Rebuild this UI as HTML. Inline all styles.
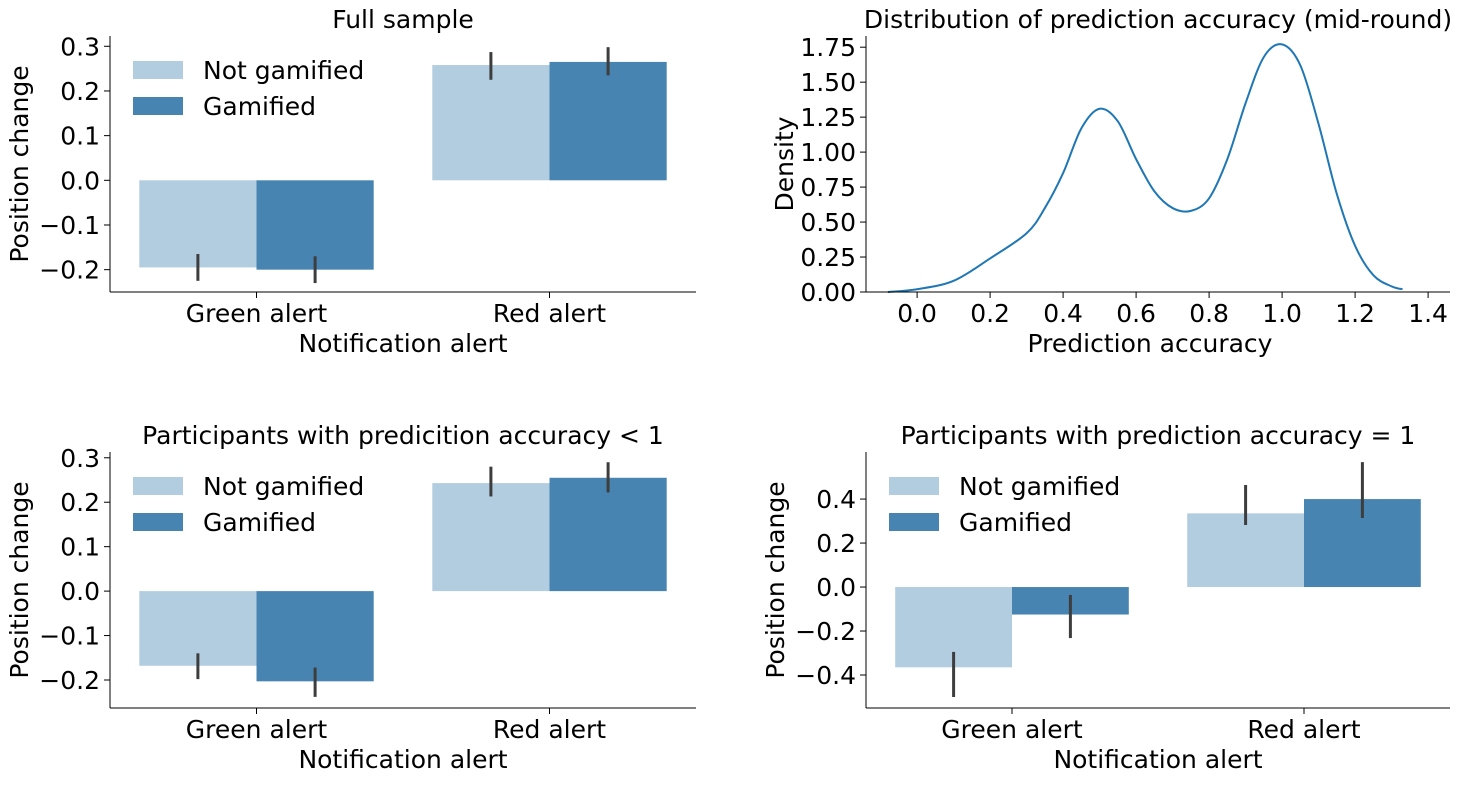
<!DOCTYPE html>
<html><head><meta charset="utf-8"><style>
body{margin:0;background:#fff}
svg{font-family:"DejaVu Sans","Liberation Sans",sans-serif}
</style></head><body>
<svg id="c" width="1481" height="781" xmlns="http://www.w3.org/2000/svg"></svg>
<script>
const categories=["Green alert","Red alert"];
const seriesNames=["Not gamified","Gamified"];
const fullVals=[[-0.195,0.258],[-0.2,0.265]];
const fullErrLo=[[-0.225,0.225],[-0.23,0.235]];
const fullErrHi=[[-0.165,0.287],[-0.17,0.298]];
const ltVals=[[-0.168,0.243],[-0.203,0.255]];
const ltErrLo=[[-0.198,0.213],[-0.238,0.222]];
const ltErrHi=[[-0.14,0.28],[-0.172,0.29]];
const eqVals=[[-0.365,0.335],[-0.125,0.4]];
const eqErrLo=[[-0.5,0.282],[-0.232,0.314]];
const eqErrHi=[[-0.295,0.464],[-0.036,0.568]];
const ticksFull=[-0.2,-0.1,0.0,0.1,0.2,0.3];
const ticksLt=[-0.2,-0.1,0.0,0.1,0.2,0.3];
const ticksEq=[-0.4,-0.2,0.0,0.2,0.4];
const kdeX=[-0.08,0,0.1,0.2,0.3,0.35,0.4,0.45,0.5,0.55,0.6,0.65,0.7,0.75,0.8,0.85,0.9,0.95,1.0,1.05,1.1,1.15,1.2,1.25,1.3,1.33];
const kdeY=[0,0.02,0.08,0.24,0.42,0.6,0.85,1.17,1.31,1.22,0.95,0.72,0.6,0.58,0.67,0.95,1.35,1.68,1.77,1.62,1.2,0.7,0.33,0.12,0.04,0.02];
const kdeXTicks=[0.0,0.2,0.4,0.6,0.8,1.0,1.2,1.4];
const kdeYTicks=[0,0.25,0.5,0.75,1.0,1.25,1.5,1.75];

const svg=document.getElementById('c');
const NS="http://www.w3.org/2000/svg";
function mk(tag,attrs,parent,txt){const e=document.createElementNS(NS,tag);for(const k in attrs)e.setAttribute(k,attrs[k]);if(txt!==undefined)e.textContent=txt;(parent||svg).appendChild(e);return e;}
function fmt(v,d){let s=v.toFixed(d);if(v<-1e-9)s='\u2212'+s.slice(1);return s;}
const colors=["#b3cde0","#4884b1"];
const FS=25;

function barPanel(name,L,R,T,B,ymin,ymax,title,vals,lo,hi,ticks,dec){
  const g=mk('g',{});
  
  
  const y=v=>B-(v-ymin)/(ymax-ymin)*(B-T);
  const x=v=>L+(v+0.5)/2*(R-L);
  const bw=0.4*(R-L)/2;
  for(let s=0;s<2;s++)for(let c=0;c<2;c++){
    const y0=y(0),y1=y(vals[s][c]);
    const xl=x(c)-bw+s*bw;
    const r=mk('rect',{x:xl,y:Math.min(y0,y1),width:bw,height:Math.abs(y1-y0),fill:colors[s]},g);
    
    
    const el=mk('line',{x1:xl+bw/2,x2:xl+bw/2,y1:y(lo[s][c]),y2:y(hi[s][c]),stroke:'#3d3d3d','stroke-width':3},g);
    
    
  }
  mk('line',{x1:L,x2:L,y1:T,y2:B,stroke:'#000','stroke-width':1},g);
  mk('line',{x1:L,x2:R,y1:B,y2:B,stroke:'#000','stroke-width':1},g);
  ticks.forEach(t=>{const yy=y(t);mk('line',{x1:L-6,x2:L,y1:yy,y2:yy,stroke:'#000'},g);
    const tx=mk('text',{x:L-10,y:yy+9,'text-anchor':'end','font-size':FS},g,fmt(t,1));
    });
  categories.forEach((c,i)=>{const xx=x(i);mk('line',{x1:xx,x2:xx,y1:B,y2:B+6,stroke:'#000'},g);
    const tx=mk('text',{x:xx,y:B+30,'text-anchor':'middle','font-size':FS},g,c);
    });
  const xt=mk('text',{x:(L+R)/2,y:B+60,'text-anchor':'middle','font-size':FS},g,'Notification alert');
  
  const yt=mk('text',{x:0,y:0,'text-anchor':'middle','font-size':FS,transform:`translate(${L-82},${(T+B)/2}) rotate(-90)`},g,'Position change');
  
  const tt=mk('text',{x:(L+R)/2,y:T-8,'text-anchor':'middle','font-size':FS},g,title);
  
  seriesNames.forEach((n,i)=>{const ly=T+25+i*36;
    const p=mk('rect',{x:L+23,y:ly,width:50,height:18,fill:colors[i]},g);
    
    const lt=mk('text',{x:L+93,y:ly+18,'font-size':FS},g,n);
    });
}
barPanel('panel-full-sample',110,696,36,292,-0.25,0.323,'Full sample',fullVals,fullErrLo,fullErrHi,ticksFull,1);
barPanel('panel-accuracy-lt-1',110,696,452,708,-0.263,0.313,'Participants with predicition accuracy < 1',ltVals,ltErrLo,ltErrHi,ticksLt,1);
barPanel('panel-accuracy-eq-1',866,1450,452,708,-0.55,0.614,'Participants with prediction accuracy = 1',eqVals,eqErrLo,eqErrHi,ticksEq,1);

(function(){
  const L=866,R=1450,T=36,B=292,xmin=-0.14,xmax=1.46,ymin=0,ymax=1.83;
  const g=mk('g',{});
  
  
  const x=v=>L+(v-xmin)/(xmax-xmin)*(R-L);
  const y=v=>B-(v-ymin)/(ymax-ymin)*(B-T);
  let d='';
  for(let i=0;i<kdeX.length;i++){
    const px=x(kdeX[i]),py=y(kdeY[i]);
    if(i===0)d='M'+px+' '+py;
    else{const p0=[x(kdeX[Math.max(i-2,0)]),y(kdeY[Math.max(i-2,0)])],p1=[x(kdeX[i-1]),y(kdeY[i-1])],p2=[px,py],p3=[x(kdeX[Math.min(i+1,kdeX.length-1)]),y(kdeY[Math.min(i+1,kdeX.length-1)])];
      const c1=[p1[0]+(p2[0]-p0[0])/6,p1[1]+(p2[1]-p0[1])/6],c2=[p2[0]-(p3[0]-p1[0])/6,p2[1]-(p3[1]-p1[1])/6];
      d+=` C${c1[0]} ${c1[1]} ${c2[0]} ${c2[1]} ${p2[0]} ${p2[1]}`;}
  }
  const pa=mk('path',{d:d,fill:'none',stroke:'#1f77b4','stroke-width':2},g);
  
  mk('line',{x1:L,x2:L,y1:T,y2:B,stroke:'#000'},g);
  mk('line',{x1:L,x2:R,y1:B,y2:B,stroke:'#000'},g);
  kdeYTicks.forEach(t=>{const yy=y(t);mk('line',{x1:L-6,x2:L,y1:yy,y2:yy,stroke:'#000'},g);
    const tx=mk('text',{x:L-10,y:yy+9,'text-anchor':'end','font-size':FS},g,t.toFixed(2));
    });
  kdeXTicks.forEach(t=>{const xx=x(t);mk('line',{x1:xx,x2:xx,y1:B,y2:B+6,stroke:'#000'},g);
    const tx=mk('text',{x:xx,y:B+30,'text-anchor':'middle','font-size':FS},g,t.toFixed(1));
    });
  const xt=mk('text',{x:(L+R)/2-8,y:B+60,'text-anchor':'middle','font-size':FS},g,'Prediction accuracy');
  
  const yt=mk('text',{x:0,y:0,'text-anchor':'middle','font-size':FS,transform:`translate(${L-73},${(T+B)/2}) rotate(-90)`},g,'Density');
  
  const tt=mk('text',{x:(L+R)/2,y:T-8,'text-anchor':'middle','font-size':FS},g,'Distribution of prediction accuracy (mid-round)');
  
})();
</script>
</body></html>
